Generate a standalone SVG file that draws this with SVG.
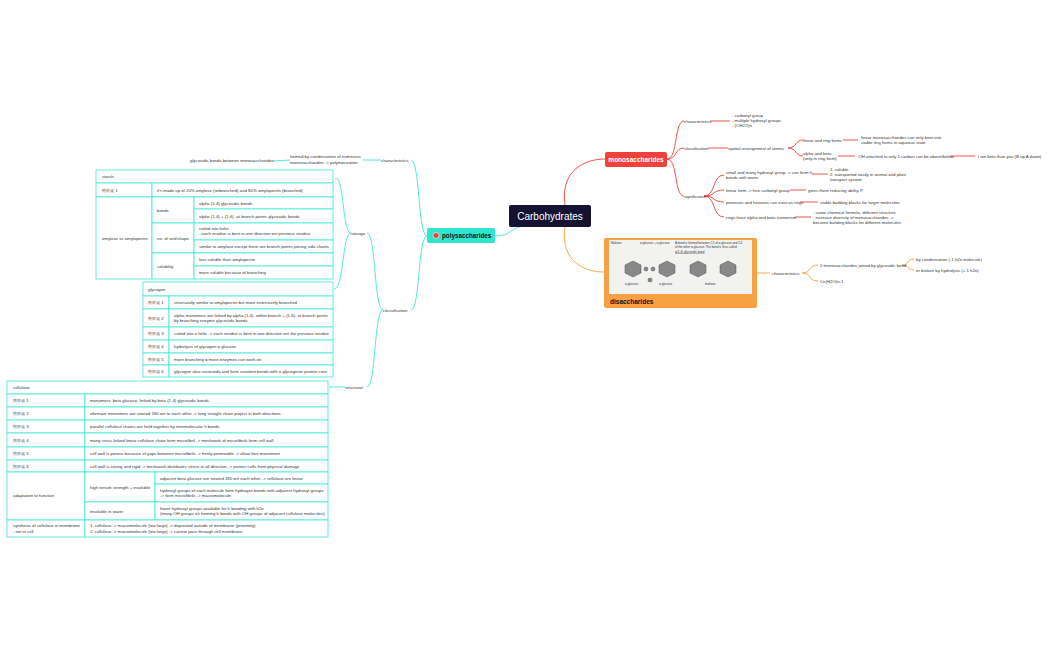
<svg xmlns="http://www.w3.org/2000/svg" width="1050" height="650" viewBox="0 0 1050 650">
<style>
text{font-family:"Liberation Sans",Arial,sans-serif;font-size:4.3px;fill:#333}
.t{fill:none;stroke:#3ee8d4;stroke-width:0.9}
.r{fill:none;stroke:#f0413a;stroke-width:0.9}
.o{fill:none;stroke:#f7a044;stroke-width:0.9}
.cell{fill:#fff;stroke:#3ee8d4;stroke-width:0.8}
</style>
<rect width="1050" height="650" fill="#fff"/>
<g id="connectors">
<path class="t" d="M495,236 C510,236 512,228 520,227"/>
<path class="t" d="M427,236 C418,236 420,160 411,160 M427,236 C418,236 420,310 411,310"/>
<path class="t" d="M381,160 L363,160 M290,160 L273,161"/>
<path class="t" d="M383,310 C374,310 376,233 367,233 M383,310 C374,310 376,387 367,387"/>
<path class="t" d="M351,233 C342,233 344,172 335,179 M351,233 C342,233 344,290 334,289"/>
<path class="t" d="M345,387 C338,387 336,387 329,387"/>
<path class="r" d="M565,205 C560,170 585,159 605,159"/>
<path class="r" d="M667,159 C678,159 674,121 684,121 M667,159 C678,159 674,148 684,148 M667,159 C678,159 674,196 684,196"/>
<path class="r" d="M710,121 L730,121 M708,148 L728,148 M788,148 C797,148 795,140 803,140 M788,148 C797,148 795,156 803,156"/>
<path class="r" d="M843,140 L858,140 M838,156 L855,156 M950,156 L975,156"/>
<path class="r" d="M704,196 C716,196 712,175 724,175 M704,196 C716,196 712,190 724,190 M704,196 C716,196 712,202 724,202 M704,196 C716,196 712,217 724,217"/>
<path class="r" d="M812,174 L828,174 M790,190 L806,190 M800,202 L818,202 M795,217 L811,217"/>
<path class="o" d="M565,227 C560,262 585,272 604,272"/>
<path class="o" d="M757,273 L770,273 M802,273 C812,273 808,265 818,265 M802,273 C812,273 808,281 818,281 M902,265 C910,265 906,259 914,259 M902,265 C910,265 906,270 914,270"/>
</g>
<g id="carbohydrates">
<rect x="509" y="205" width="82" height="22" rx="2" fill="#141432"/>
<text x="550" y="219.5" text-anchor="middle" style="font-size:10px;fill:#fff">Carbohydrates</text>
</g>
<g id="polysaccharides">
<rect x="427" y="228" width="68" height="15" rx="2" fill="#2ee6cf"/>
<circle cx="436" cy="235.5" r="3" fill="#f0413a" stroke="#fff" stroke-width="0.6"/>
<text x="442" y="238" style="font-size:6.3px;font-weight:bold;fill:#111">polysaccharides</text>
</g>
<g id="poly-characteristics">
<text x="381" y="161.5">characteristics</text>
<text x="290" y="158">formed by condensation of numerous</text>
<text x="290" y="164">monosaccharides -&gt; polymerization</text>
<text x="190" y="162">glycosidic bonds between monosaccharides</text>
</g>
<g id="classification"><text x="383" y="311.5">classification</text><text x="351" y="234.5">storage</text><text x="345" y="388.5">structural</text></g>
<g id="starch">
<rect class="cell" x="96" y="170" width="237" height="13"/>
<rect class="cell" x="96" y="183" width="56" height="14"/><rect class="cell" x="152" y="183" width="181" height="14"/>
<rect class="cell" x="96" y="197" width="56" height="82"/>
<rect class="cell" x="152" y="197" width="42" height="26"/><rect class="cell" x="194" y="197" width="139" height="12"/><rect class="cell" x="194" y="209" width="139" height="14"/>
<rect class="cell" x="152" y="223" width="42" height="30"/><rect class="cell" x="194" y="223" width="139" height="17"/><rect class="cell" x="194" y="240" width="139" height="13"/>
<rect class="cell" x="152" y="253" width="42" height="26"/><rect class="cell" x="194" y="253" width="139" height="13"/><rect class="cell" x="194" y="266" width="139" height="13"/>
<text x="102" y="178">starch</text>
<text x="102" y="191.5">特征点 1</text><text x="157" y="191.5">it's made up of 20% amylose (unbranched) and 80% amylopectin (branched)</text>
<text x="102" y="239.5">amylose vs amylopectin</text>
<text x="157" y="211.5">bonds</text><text x="199" y="204.5">alpha (1-4) glycosidic bonds</text><text x="199" y="217.5">alpha (1-4) + (1-6) -at branch points glycosidic bonds</text>
<text x="157" y="239.5">no. of unit/shape</text><text x="199" y="230">coiled into helix</text><text x="199" y="235">- each residue is bent in one direction wrt previous residue</text><text x="199" y="248">similar to amylose except there are branch points joining side chains</text>
<text x="157" y="267.5">solubility</text><text x="199" y="261">less soluble than amylopectin</text><text x="199" y="274">more soluble because of branching</text>
</g>
<g id="glycogen">
<rect class="cell" x="143" y="282" width="190" height="14"/>
<rect class="cell" x="143" y="296" width="26" height="13"/><rect class="cell" x="169" y="296" width="164" height="13"/>
<rect class="cell" x="143" y="309" width="26" height="18"/><rect class="cell" x="169" y="309" width="164" height="18"/>
<rect class="cell" x="143" y="327" width="26" height="13"/><rect class="cell" x="169" y="327" width="164" height="13"/>
<rect class="cell" x="143" y="340" width="26" height="13"/><rect class="cell" x="169" y="340" width="164" height="13"/>
<rect class="cell" x="143" y="353" width="26" height="12"/><rect class="cell" x="169" y="353" width="164" height="12"/>
<rect class="cell" x="143" y="365" width="26" height="12"/><rect class="cell" x="169" y="365" width="164" height="12"/>
<text x="148" y="290.5">glycogen</text>
<text x="148" y="304">特征点 1</text><text x="174" y="304">structurally similar to amylopectin but more extensively branched</text>
<text x="148" y="319.5">特征点 2</text><text x="174" y="316.5">alpha monomers are linked by alpha (1,4)- within branch + (1,6)- at branch points</text><text x="174" y="321.5">by branching enzyme glycosidic bonds</text>
<text x="148" y="335">特征点 3</text><text x="174" y="335">coiled into a helix -&gt; each residue is bent in one direction wrt the previous residue</text>
<text x="148" y="348">特征点 4</text><text x="174" y="348">hydrolysis of glycogen = glucose</text>
<text x="148" y="360.5">特征点 5</text><text x="174" y="360.5">more branching = more enzymes can work on</text>
<text x="148" y="372.5">特征点 6</text><text x="174" y="372.5">glycogen also surrounds and form covalent bonds with a glycogenin protein core</text>
</g>
<g id="cellulose">
<rect class="cell" x="7" y="381" width="321" height="13"/>
<rect class="cell" x="7" y="394" width="78" height="13"/><rect class="cell" x="85" y="394" width="243" height="13"/>
<rect class="cell" x="7" y="407" width="78" height="13"/><rect class="cell" x="85" y="407" width="243" height="13"/>
<rect class="cell" x="7" y="420" width="78" height="13"/><rect class="cell" x="85" y="420" width="243" height="13"/>
<rect class="cell" x="7" y="433" width="78" height="14"/><rect class="cell" x="85" y="433" width="243" height="14"/>
<rect class="cell" x="7" y="447" width="78" height="13"/><rect class="cell" x="85" y="447" width="243" height="13"/>
<rect class="cell" x="7" y="460" width="78" height="12"/><rect class="cell" x="85" y="460" width="243" height="12"/>
<rect class="cell" x="7" y="472" width="78" height="48"/>
<rect class="cell" x="85" y="472" width="70" height="30"/><rect class="cell" x="155" y="472" width="173" height="12"/><rect class="cell" x="155" y="484" width="173" height="18"/>
<rect class="cell" x="85" y="502" width="70" height="18"/><rect class="cell" x="155" y="502" width="173" height="18"/>
<rect class="cell" x="7" y="520" width="78" height="17"/><rect class="cell" x="85" y="520" width="243" height="17"/>
<text x="13" y="389">cellulose</text>
<text x="13" y="402">特征点 1</text><text x="90" y="402">monomers: beta glucose, linked by beta (1-4) glycosidic bonds</text>
<text x="13" y="415">特征点 2</text><text x="90" y="415">alternate monomers are rotated 180 wrt to each other -&gt; long straight chain project in both directions</text>
<text x="13" y="428">特征点 3</text><text x="90" y="428">parallel cellulose chains are held together by intermolecular h bonds</text>
<text x="13" y="441.5">特征点 4</text><text x="90" y="441.5">many cross-linked linear cellulose chain form microfibril -&gt; meshwork of microfibrils form cell wall</text>
<text x="13" y="455">特征点 5</text><text x="90" y="455">cell wall is porous because of gaps between microfibrils -&gt; freely permeable -&gt; allow free movement</text>
<text x="13" y="467.5">特征点 6</text><text x="90" y="467.5">cell wall is strong and rigid -&gt; meshwork distributes stress in all direction -&gt; protect cells from physical damage</text>
<text x="13" y="497">adaptation to function</text>
<text x="90" y="488.5">high tensile strength + insoluble</text>
<text x="160" y="479.5">adjacent beta glucose are rotated 180 wrt each other -&gt; cellulose are linear</text>
<text x="160" y="491.5">hydroxyl groups of each molecule form hydrogen bonds with adjacent hydroxyl groups</text><text x="160" y="496.5">-&gt; form microfibrils -&gt; macromolecule</text>
<text x="90" y="512.5">insoluble in water</text>
<text x="160" y="509.5">fewer hydroxyl groups available for h bonding with h2o</text><text x="160" y="514.5">(many OH groups alr forming h bonds with OH groups of adjacent cellulose molecules)</text>
<text x="13" y="527">synthesis of cellulose in membrane</text><text x="13" y="532.5">, not in cell</text>
<text x="90" y="527">1. cellulose -&gt; macromolecule (too large) -&gt; deposited outside of membrane (proximity)</text>
<text x="90" y="532.5">2. cellulose -&gt; macromolecule (too large) -&gt; cannot pass through cell membrane</text>
</g>
<g id="monosaccharides">
<rect x="605" y="152" width="62" height="15" rx="2" fill="#f0413a"/>
<text x="636" y="162" text-anchor="middle" style="font-size:6.5px;fill:#fff;font-weight:bold">monosaccharides</text>
</g>
<g id="mono-details">
<text x="684" y="122.5">characteristics</text>
<text x="732" y="117">- carbonyl group</text><text x="732" y="122">- multiple hydroxyl groups</text><text x="732" y="127">- (CH2O)n</text>
<text x="684" y="149.5">classification</text><text x="728" y="149.5">spatial arrangement of atoms</text>
<text x="803" y="141.5">linear and ring forms</text><text x="861" y="139">linear monosaccharides can only bent into</text><text x="861" y="144">stable ring forms in aqueous state</text>
<text x="803" y="155">alpha and beta</text><text x="803" y="160">(only in ring form)</text>
<text x="857" y="157.5">-OH attached to only 1-carbon can be above/below</text><text x="978" y="157.5">i am beta than you (B up A down)</text>
<text x="684" y="197.5">significance</text>
<text x="726" y="173.5">small and many hydroxyl group -&gt; can form h</text><text x="726" y="178.5">bonds with water</text>
<text x="830" y="170.5">1. soluble</text><text x="830" y="175.5">2. transported easily in animal and plant</text><text x="830" y="180.5">transport system</text>
<text x="726" y="191.5">linear form -&gt; free carbonyl group</text><text x="808" y="191.5">gives them reducing ability  ⁉</text>
<text x="726" y="203.5">pentoses and hexoses can exist as rings</text><text x="820" y="203.5">stable building blocks for larger molecules</text>
<text x="726" y="218.5">rings have alpha and beta isomerism</text>
<text x="813" y="214">- same chemical formula, different structure</text><text x="813" y="219">- increase diversity of monosaccharides -&gt;</text><text x="813" y="224">become building blocks for different molecules</text>
</g>
<g id="disaccharides">
<rect x="604" y="238" width="153" height="70" rx="2" fill="#f7a044"/>
<rect x="609" y="240" width="143" height="54" fill="#f2f2f0"/>
<g fill="#888" stroke="#555" stroke-width="0.5">
<polygon points="625,265 633,261 641,265 641,273 633,277 625,273"/>
<polygon points="659,265 667,261 675,265 675,273 667,277 659,273"/>
<polygon points="690,265 698,261 706,265 706,273 698,277 690,273"/>
<polygon points="720,265 728,261 736,265 736,273 728,277 720,273"/>
<circle cx="646" cy="269" r="2"/><circle cx="653" cy="269" r="2"/><circle cx="650" cy="280" r="2"/>
</g>
<text x="611" y="243.5" style="font-size:3px">Maltose</text><text x="640" y="243.5" style="font-size:3px">α-glucose + α-glucose</text><text x="675" y="243.5" style="font-size:3px">A bond is formed between C1 of α-glucose and C4</text><text x="675" y="248" style="font-size:3px">of the other α-glucose. The bond is thus called</text><text x="675" y="252.5" style="font-size:3px;text-decoration:underline">α(1-4) glycosidic bond</text>
<text x="625" y="285" style="font-size:3px">α-glucose</text><text x="659" y="285" style="font-size:3px">α-glucose</text><text x="705" y="285" style="font-size:3px">maltose</text>
<text x="610" y="303.5" style="font-size:6.5px;font-weight:bold;fill:#111">disaccharides</text>
</g>
<g id="di-details">
<text x="772" y="274.5">characteristics</text>
<text x="820" y="266.5">2 monosaccharides joined by glycosidic bond</text>
<text x="820" y="282.5">Cn(H2O)n-1</text>
<text x="916" y="260.5">by condensation (-1 h2o molecule)</text>
<text x="916" y="271.5">or broken by hydrolysis (+ 1 h2o)</text>
</g>
</svg>
